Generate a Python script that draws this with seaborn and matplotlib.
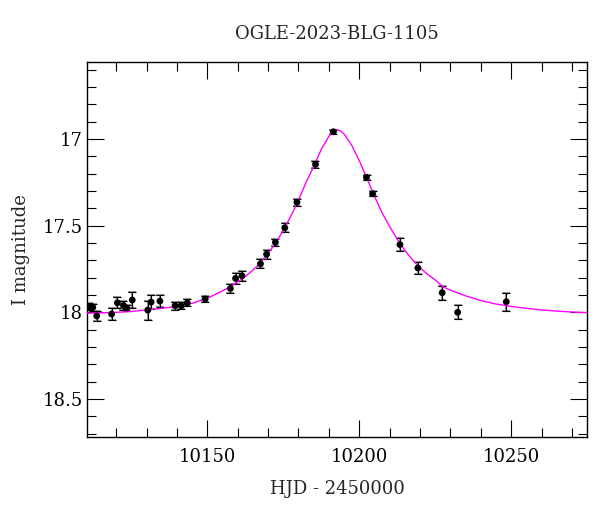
import numpy as np
import matplotlib
matplotlib.use("Agg")
import matplotlib.pyplot as plt
from matplotlib.ticker import MultipleLocator
import pandas as pd
import seaborn as sns

titulo = "OGLE-2023-BLG-1105"

# observaciones (HJD - 2450000, magnitud I, error)
hjd = [10111.2, 10112.3, 10113.6, 10118.5, 10120.4, 10122.4, 10123.5, 10125.3,
       10130.4, 10131.5, 10134.4, 10139.4, 10141.4, 10143.4, 10149.3, 10157.6,
       10159.3, 10161.4, 10167.5, 10169.5, 10172.4, 10175.5, 10179.5, 10185.6,
       10191.5, 10202.4, 10204.4, 10213.4, 10219.3, 10227.3, 10232.4, 10248.4]
mag = [17.969, 17.971, 18.021, 18.010, 17.945, 17.960, 17.975, 17.929,
       17.987, 17.941, 17.935, 17.962, 17.962, 17.945, 17.923, 17.862,
       17.804, 17.789, 17.720, 17.665, 17.596, 17.512, 17.365, 17.146,
       16.958, 17.221, 17.316, 17.609, 17.744, 17.887, 18.000, 17.939]
err = [0.020, 0.020, 0.027, 0.033, 0.032, 0.027, 0.020, 0.046,
       0.055, 0.040, 0.035, 0.023, 0.020, 0.020, 0.015, 0.025,
       0.030, 0.030, 0.025, 0.025, 0.020, 0.025, 0.020, 0.020,
       0.012, 0.015, 0.015, 0.037, 0.035, 0.040, 0.040, 0.053]

# modelo
hjd_mod = [10110.0, 10115.0, 10120.0, 10125.0, 10130.0, 10135.0, 10140.0, 10145.0,
           10150.0, 10152.5, 10155.0, 10157.5, 10160.0, 10162.5, 10165.0, 10167.5,
           10170.0, 10172.5, 10175.0, 10177.5, 10180.0, 10182.5, 10185.0, 10187.5,
           10190.0, 10191.5, 10192.5, 10193.5, 10195.0, 10197.5, 10200.0, 10202.5,
           10205.0, 10207.5, 10210.0, 10212.5, 10215.0, 10217.5, 10220.0, 10222.5,
           10225.0, 10227.5, 10230.0, 10235.0, 10240.0, 10245.0, 10250.0, 10255.0,
           10260.0, 10265.0, 10270.0, 10275.1]
mag_mod = [18.005, 18.003, 18.000, 17.995, 17.986, 17.977, 17.966, 17.948,
           17.918, 17.898, 17.876, 17.853, 17.825, 17.793, 17.757, 17.713,
           17.661, 17.600, 17.527, 17.445, 17.353, 17.250, 17.160, 17.060,
           16.985, 16.955, 16.946, 16.950, 16.970, 17.035, 17.125, 17.225,
           17.330, 17.425, 17.505, 17.578, 17.642, 17.697, 17.742, 17.781,
           17.813, 17.852, 17.872, 17.905, 17.932, 17.952, 17.966, 17.977,
           17.986, 17.993, 17.998, 18.002]

sns.set_theme(style="ticks")
plt.rcParams['font.family'] = ['DejaVu Serif']
plt.rcParams['mathtext.fontset'] = 'dejavuserif'

fig = plt.figure(figsize=(6.0, 5.12), dpi=100)
ax = fig.add_axes([0.1445, 0.1459, 0.8345, 0.7336])

df = pd.DataFrame({"hjd": hjd, "mag": mag, "err": err})
modelo = pd.DataFrame({"hjd": hjd_mod, "mag": mag_mod})

ax.errorbar(df["hjd"], df["mag"], yerr=df["err"], fmt="none", ecolor="#999999",
            elinewidth=1.5, capsize=2.7, capthick=1.5, zorder=2)
ax.errorbar(df["hjd"], df["mag"], yerr=df["err"], fmt="none", ecolor="black",
            elinewidth=0.8, capsize=2.7, capthick=0.8, zorder=3)
sns.lineplot(data=modelo, x="hjd", y="mag", color="#ff00ff", linewidth=1.0,
             ax=ax, zorder=4, sort=False)
sns.scatterplot(data=df, x="hjd", y="mag", color="black", s=24, edgecolor="none",
                ax=ax, zorder=5)

ax.set_xlim(10110.3, 10275.1)
ax.set_ylim(18.721, 16.554)
ax.xaxis.set_major_locator(MultipleLocator(50))
ax.xaxis.set_minor_locator(MultipleLocator(10))
ax.yaxis.set_minor_locator(MultipleLocator(0.1))
ax.set_yticks([17, 17.5, 18, 18.5])
ax.set_yticklabels(["17", "17.5", "18", "18.5"])

ax.tick_params(which="both", direction="in", top=True, right=True,
               labelsize=13, colors="black")
ax.tick_params(which="major", length=12, width=0.8)
ax.tick_params(axis="x", which="major", pad=8)
ax.tick_params(axis="y", which="major", pad=3)
ax.tick_params(which="minor", length=6.5, width=0.8)
for s in ax.spines.values():
    s.set_color("black")
    s.set_linewidth(1.0)

ax.set_xlabel("HJD - 2450000", fontsize=13, labelpad=10)
ax.set_ylabel("I magnitude", fontsize=13, labelpad=9)
ax.set_title(titulo, fontsize=13, pad=16)

fig.savefig("out.png", dpi=100)
